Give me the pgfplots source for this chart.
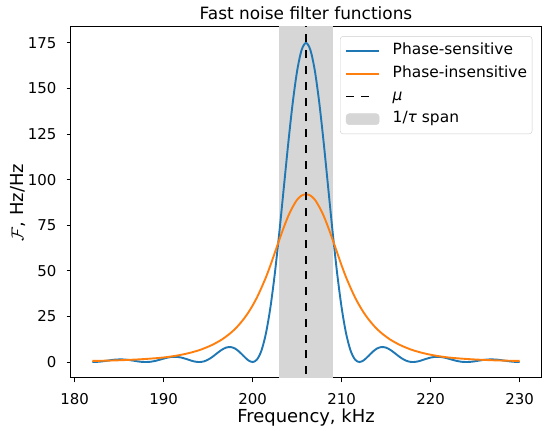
\documentclass[border=0pt]{standalone}
\usepackage{fontspec}
\setmainfont{DejaVu Sans}
\usepackage{pgfplots}
\pgfplotsset{compat=1.18}
\usetikzlibrary{calc}
\definecolor{mplblue}{HTML}{1F77B4}
\definecolor{mplorange}{HTML}{FF7F0E}
\definecolor{spangray}{HTML}{D6D6D6}
\newcommand{\tickfont}{\fontsize{15}{18}\selectfont}
\pgfplotstableread{
f v
182 0
182.5 0.08
183 0.30
183.5 0.63
184 0.99
184.5 1.29
185 1.45
185.5 1.42
186 1.20
186.5 0.84
187 0.44
187.5 0.12
188 0
188.5 0.14
189 0.55
189.5 1.17
190 1.87
190.5 2.48
191 2.84
191.5 2.83
192 2.44
192.5 1.75
193 0.94
193.5 0.27
194 0
194.5 0.32
195 1.32
195.5 2.89
196 4.79
196.5 6.60
197 7.88
197.5 8.24
198 7.48
198.5 5.67
199 3.26
199.5 1.01
200 0
200.5 1.41
201 6.38
201.5 15.76
202 29.92
202.5 48.62
203 70.92
203.5 95.29
204 119.69
204.5 141.85
205 159.58
205.5 171.04
206 175
206.5 171.04
207 159.58
207.5 141.85
208 119.69
208.5 95.29
209 70.92
209.5 48.62
210 29.92
210.5 15.76
211 6.38
211.5 1.41
212 0
212.5 1.01
213 3.26
213.5 5.67
214 7.48
214.5 8.24
215 7.88
215.5 6.60
216 4.79
216.5 2.89
217 1.32
217.5 0.32
218 0
218.5 0.27
219 0.94
219.5 1.75
220 2.44
220.5 2.83
221 2.84
221.5 2.48
222 1.87
222.5 1.17
223 0.55
223.5 0.14
224 0
224.5 0.12
225 0.44
225.5 0.84
226 1.20
226.5 1.42
227 1.45
227.5 1.29
228 0.99
228.5 0.63
229 0.30
229.5 0.08
230 0
}\sensitive
\pgfplotstableread{
f v
182 0.6
183 0.7
184 0.82
185 0.97
186 1.17
187 1.4
188 1.7
189 2.05
190 2.5
191 3.15
192 4.0
193 5.1
194 6.5
194.5 7.4
195 8.4
195.5 9.5
196 10.8
196.5 12.2
197 13.9
197.5 15.8
198 18
198.5 20.6
199 23.6
199.5 27
200 31
200.5 35.5
201 40.8
201.5 46.5
202 53
202.5 60
203 67
203.5 73.8
204 80
204.5 85
205 89
205.5 91.3
206 92
206.5 91.3
207 89
207.5 85
208 80
208.5 73.8
209 67
209.5 60
210 53
210.5 46.5
211 40.8
211.5 35.5
212 31
212.5 27
213 23.6
213.5 20.6
214 18
214.5 15.8
215 13.9
215.5 12.2
216 10.8
216.5 9.5
217 8.4
217.5 7.4
218 6.5
219 5.1
220 4.0
221 3.15
222 2.5
223 2.05
224 1.7
225 1.4
226 1.17
227 0.97
228 0.82
229 0.7
230 0.6
}\insensitive
\begin{document}
\begin{tikzpicture}
\begin{axis}[
  width=470bp, height=351bp, scale only axis,
  xmin=179.6, xmax=232.4, ymin=-8.75, ymax=183.75,
  xtick={180,190,...,230}, ytick={0,25,...,175},
  tick align=outside, xtick pos=bottom, ytick pos=left,
  major tick length=4.4bp,
  every tick/.style={black, line width=1bp},
  axis line style={line width=1bp},
  /pgf/number format/assume math mode=true,
  xticklabel={\tickfont\pgfmathprintnumber{\tick}},
  yticklabel={\tickfont\pgfmathprintnumber{\tick}},
  xticklabel style={font=\tickfont, inner sep=0pt, anchor=base, yshift=-22bp},
  yticklabel style={font=\tickfont, inner sep=0pt, anchor=east, xshift=-10bp},
  every axis title shift=0pt,
  title={Fast noise filter functions},
  title style={font=\fontsize{17}{20}\selectfont, at={(rel axis cs:0.5,1)}, anchor=base, yshift=7bp, inner sep=0pt},
  xlabel={Frequency, kHz},
  xlabel style={font=\fontsize{18}{21}\selectfont, at={(rel axis cs:0.5,0)}, anchor=base, yshift=-44.3bp, inner sep=0pt},
  ylabel={$\mathcal{F}$, Hz/Hz},
  ylabel style={font=\fontsize{18}{21}\selectfont, at={($(rel axis cs:0,0.5)+(-53bp,0bp)$)}, anchor=center, inner sep=0pt},
  legend cell align=left,
  legend style={at={(rel axis cs:0.9815,0.974)}, anchor=north east,
    draw=black!20, rounded corners=3bp, fill=white,
    font=\fontsize{15.5}{18}\selectfont,
    inner xsep=5bp, inner ysep=7bp, row sep=7.2bp,
    nodes={inner sep=0pt, text height=11.5bp, text depth=4bp},
    /tikz/every odd column/.append style={column sep=12.6bp}},
]
\addplot[fill=spangray, draw=none, forget plot] coordinates {(203,-50) (209,-50) (209,250) (203,250)} -- cycle;
\addplot[mplblue, line width=1.9bp, smooth, forget plot] table[x=f,y=v] {\sensitive};
\addplot[mplorange, line width=1.9bp, smooth, forget plot] table[x=f,y=v] {\insensitive};
\addplot[black, line width=1.9bp, dash pattern=on 8bp off 7.8bp, forget plot] coordinates {(206,-50) (206,250)};
\addlegendimage{legend image code/.code={\draw[mplblue, line width=1.9bp] (0bp,0bp) -- (33bp,0bp);}}
\addlegendentry{Phase-sensitive}
\addlegendimage{legend image code/.code={\draw[mplorange, line width=1.9bp] (0bp,0bp) -- (33bp,0bp);}}
\addlegendentry{Phase-insensitive}
\addlegendimage{legend image code/.code={\draw[black, line width=1.9bp] (0bp,0bp) -- (7.6bp,0bp) (15.2bp,0bp) -- (22.8bp,0bp);}}
\addlegendentry{{\itshape μ}}
\addlegendimage{legend image code/.code={\fill[spangray] (0bp,-5.5bp) rectangle (33bp,5.5bp);}}
\addlegendentry{1/{\itshape τ} span}
\coordinate (bl) at (rel axis cs:0,0);
\coordinate (tr) at (rel axis cs:1,1);
\end{axis}
\pgfresetboundingbox
\path ($(bl)+(-71bp,-53bp)$) rectangle ($(tr)+(9bp,27bp)$);
\end{tikzpicture}
\end{document}
